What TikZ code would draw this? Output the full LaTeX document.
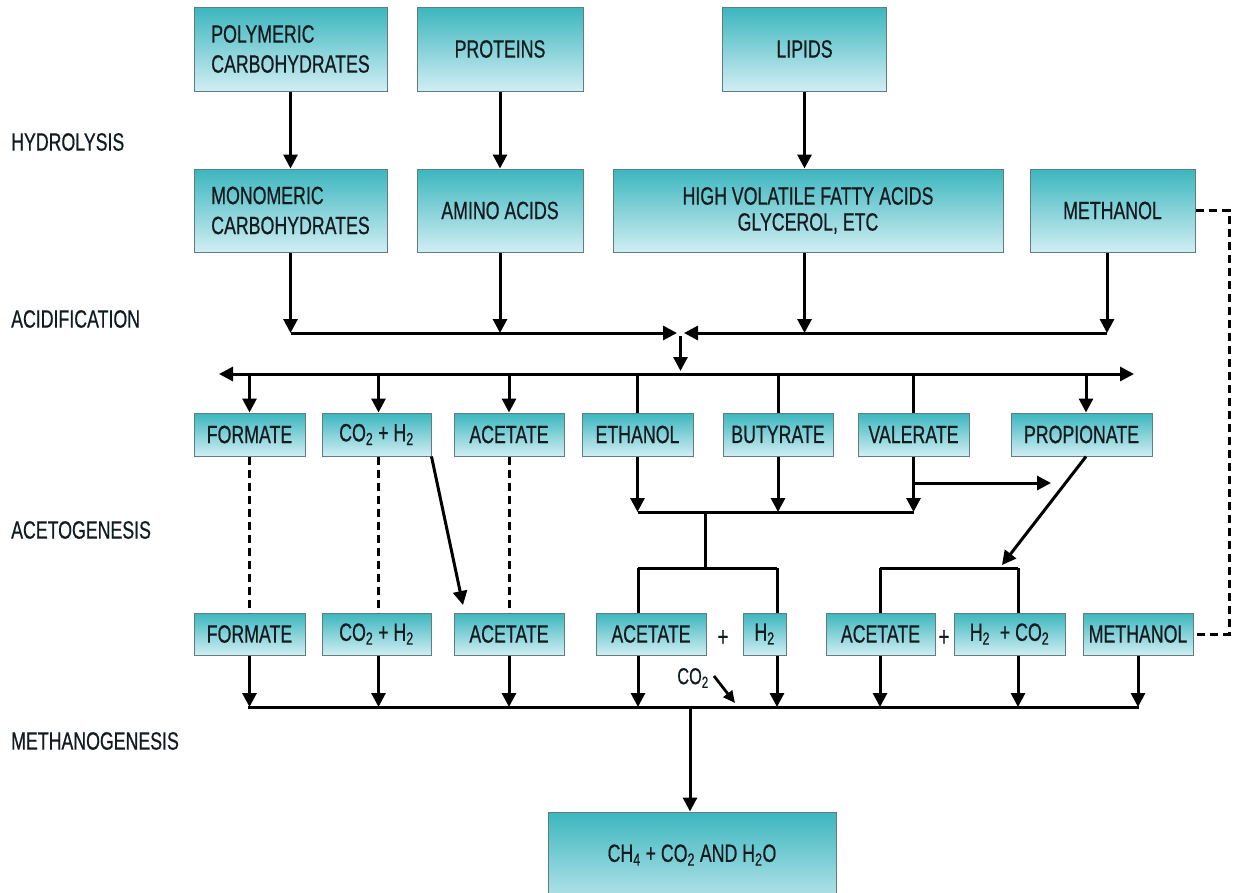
\documentclass[tikz,border=0pt]{standalone}
\usepackage{fontspec}
\setmainfont{Liberation Sans}[FakeStretch=0.71,FakeBold=0.6]
\usetikzlibrary{arrows.meta}
\definecolor{tealtop}{RGB}{60,182,190}
\definecolor{teallow}{RGB}{208,238,243}
\definecolor{boxline}{RGB}{95,125,130}
\definecolor{ink}{RGB}{18,28,32}
\newcommand{\bfnt}{\fontsize{25}{30}\selectfont}
\newcommand{\sbs}[1]{\textsubscript{#1}}
\begin{document}
\begin{tikzpicture}[x=1pt,y=-1pt,
  box/.style={draw=boxline, line width=1pt, top color=tealtop, bottom color=teallow,
    inner sep=0pt, align=center, font=\bfnt, text=ink},
  lbl/.style={anchor=west, font=\bfnt, text=ink, inner sep=0pt},
  conn/.style={line width=3pt, black},
  arr/.style={conn, -{Triangle[width=14pt,length=14pt]}},
  dashln/.style={line width=3pt, black, dash pattern=on 8pt off 5pt},
  plus/.style={font=\fontsize{27}{28}\selectfont, text=ink, inner sep=0pt}]
\useasboundingbox (0,0) rectangle (1233,892);
\clip (0,0) rectangle (1233,892);

% ---- stage labels
\node[lbl] (hyd) at (11,142) {HYDROLYSIS};
\node[lbl] (acid) at (11,319) {ACIDIFICATION};
\node[lbl] (aceto) at (11,530) {ACETOGENESIS};
\node[lbl] (meth) at (11,741) {METHANOGENESIS};

% ---- row 1
\node[box, minimum width=193pt, minimum height=84pt, align=left] (poly) at (290.5,49) {POLYMERIC\\CARBOHYDRATES};
\node[box, minimum width=166pt, minimum height=84pt] (prot) at (500,49) {PROTEINS};
\node[box, minimum width=164pt, minimum height=84pt] (lip) at (804.5,49) {LIPIDS};

% ---- row 2
\node[box, minimum width=193pt, minimum height=83pt, align=left] (mono) at (290.5,210.5) {MONOMERIC\\CARBOHYDRATES};
\node[box, minimum width=166pt, minimum height=83pt] (amino) at (500,210.5) {AMINO ACIDS};
\node[box, minimum width=390pt, minimum height=83pt, font=\fontsize{25}{26}\selectfont] (hvfa) at (808,210.5) {HIGH VOLATILE FATTY ACIDS\\GLYCEROL, ETC};
\node[box, minimum width=165pt, minimum height=83pt] (methA) at (1112.5,210.5) {METHANOL};

% ---- row 3
\node[box, minimum width=111pt, minimum height=43pt] (formA) at (249.5,434.5) {FORMATE};
\node[box, minimum width=109pt, minimum height=43pt] (coA) at (376.5,434.5) {CO\sbs{2} + H\sbs{2}};
\node[box, minimum width=110pt, minimum height=43pt] (acA) at (509,434.5) {ACETATE};
\node[box, minimum width=111pt, minimum height=43pt] (eth) at (637.5,434.5) {ETHANOL};
\node[box, minimum width=110pt, minimum height=43pt] (but) at (778,434.5) {BUTYRATE};
\node[box, minimum width=111pt, minimum height=43pt] (val) at (913.5,434.5) {VALERATE};
\node[box, minimum width=141pt, minimum height=43pt] (prop) at (1081.5,434.5) {PROPIONATE};

% ---- row 4
\node[box, minimum width=111pt, minimum height=42pt] (formB) at (249.5,634) {FORMATE};
\node[box, minimum width=109pt, minimum height=42pt] (coB) at (376.5,634) {CO\sbs{2} + H\sbs{2}};
\node[box, minimum width=110pt, minimum height=42pt] (acB) at (509,634) {ACETATE};
\node[box, minimum width=110pt, minimum height=42pt] (acC) at (651,634) {ACETATE};
\node[plus] (p1) at (723,638) {+};
\node[box, minimum width=43pt, minimum height=42pt] (hB) at (764.5,634) {H\sbs{2}};
\node[box, minimum width=109pt, minimum height=42pt] (acD) at (880.5,634) {ACETATE};
\node[plus] (p2) at (944,638) {+};
\node[box, minimum width=111pt, minimum height=42pt] (hcB) at (1009.5,634) {H\sbs{2}\ \ + CO\sbs{2}};
\node[box, minimum width=110pt, minimum height=42pt] (methB) at (1138,634) {METHANOL};

% ---- final
\node[box, minimum width=288pt, minimum height=108pt] (fin) at (692,866) {};
\node[font=\bfnt, text=ink, inner sep=0pt] (fintxt) at (692,855) {CH\sbs{4} + CO\sbs{2} AND H\sbs{2}O};

% ---- hydrolysis arrows
\draw[arr] (poly) -- (mono);
\draw[arr] (prot) -- (amino);
\draw[arr] (lip.south) -- (lip.south |- hvfa.north);

% ---- acidification
\coordinate (a1) at (290.5,333);
\coordinate (a2) at (500,333);
\coordinate (a3) at (804.5,333);
\coordinate (a4) at (1107,333);
\coordinate (amL) at (677,333);
\coordinate (amR) at (684,333);
\coordinate (amD) at (680.5,336);
\coordinate (amB) at (680.5,371);
\draw[arr] (mono.south) -- (a1);
\draw[arr] (amino.south) -- (a2);
\draw[arr] (a3 |- hvfa.south) -- (a3);
\draw[arr] (a4 |- methA.south) -- (a4);
\draw[arr] (a1) -- (amL);
\draw[arr] (a4) -- (amR);
\draw[arr] (amD) -- (amB);

% ---- distribution bus
\coordinate (bL) at (219,374);
\coordinate (bR) at (1134,374);
\draw[conn, {Triangle[width=14pt,length=14pt]}-{Triangle[width=14pt,length=14pt]}] (bL) -- (bR);
\draw[arr] (formA.north |- bL) -- (formA.north);
\draw[arr] ([xshift=2pt]coA.north |- bL) -- ([xshift=2pt]coA.north);
\draw[arr] (acA.north |- bL) -- (acA.north);
\draw[conn] (eth.north |- bL) -- (eth.north);
\draw[conn] (but.north |- bL) -- (but.north);
\draw[conn] (val.north |- bL) -- (val.north);
\draw[arr] ([xshift=4.5pt]prop.north |- bL) -- ([xshift=4.5pt]prop.north);

% ---- acetogenesis
\draw[dashln] (formA.south) -- (formB.north);
\draw[dashln] ([xshift=2pt]coA.south) -- ([xshift=2pt]coB.north);
\draw[dashln] (acA.south) -- (acB.north);
\coordinate (dtip) at (463,605);
\draw[arr] (coA.south east) -- (dtip);

\coordinate (j1) at (637.5,512);
\coordinate (j3) at (913.5,512);
\draw[arr] (eth.south) -- (eth.south |- j1);
\draw[arr] (but.south) -- (but.south |- j1);
\draw[arr] (val.south) -- (j3);
\draw[conn] (j1) -- (j3);
\coordinate (v1) at (913.5,483);
\coordinate (v2) at (1051,483);
\draw[arr] (v1) -- (v2);
\coordinate (ptip) at (1002,565);
\draw[arr] ([xshift=4.5pt]prop.south) -- (ptip);

\coordinate (k0) at (705,512);
\coordinate (k1) at (705,568);
\coordinate (kL) at (638,568);
\coordinate (kR) at (777,568);
\draw[conn] (k0) -- (k1);
\draw[conn] (kL) -- (kR);
\draw[conn] (kL) -- (kL |- acC.north);
\draw[conn] (kR) -- (kR |- hB.north);

\coordinate (rL) at (880,568);
\coordinate (rR) at (1018,568);
\draw[conn] (rL) -- (rR);
\draw[conn] (rL) -- (rL |- acD.north);
\draw[conn] (rR) -- (rR |- hcB.north);

% ---- methanol dashed link
\coordinate (m1) at (1229,210.5);
\coordinate (m2) at (1229,634);
\draw[dashln] (methA.east) -- (m1) -- (m2) -- (methB.east);

% ---- methanogenesis
\coordinate (mL) at (248,707);
\coordinate (mR) at (1139,707);
\draw[conn] (mL) -- (mR);
\draw[arr] (formB.south) -- (formB.south |- mL);
\draw[arr] ([xshift=2pt]coB.south) -- ([xshift=2pt]coB.south |- mL);
\draw[arr] (acB.south) -- (acB.south |- mL);
\draw[arr] (kL |- acC.south) -- (kL |- mL);
\draw[arr] (kR |- hB.south) -- (kR |- mL);
\draw[arr] (rL |- acD.south) -- (rL |- mL);
\draw[arr] (rR |- hcB.south) -- (rR |- mL);
\draw[arr] (methB.south) -- (methB.south |- mL);

\node[font=\fontsize{23}{24}\selectfont, text=ink, inner sep=0pt] (co2lbl) at (693,678) {CO\sbs{2}};
\coordinate (c1) at (714,676);
\coordinate (c2) at (735,703);
\draw[line width=2.8pt, -{Triangle[width=11pt,length=12pt]}] (c1) -- (c2);

\coordinate (mC) at (690,707);
\draw[arr] (mC) -- (mC |- fin.north);
\end{tikzpicture}
\end{document}
